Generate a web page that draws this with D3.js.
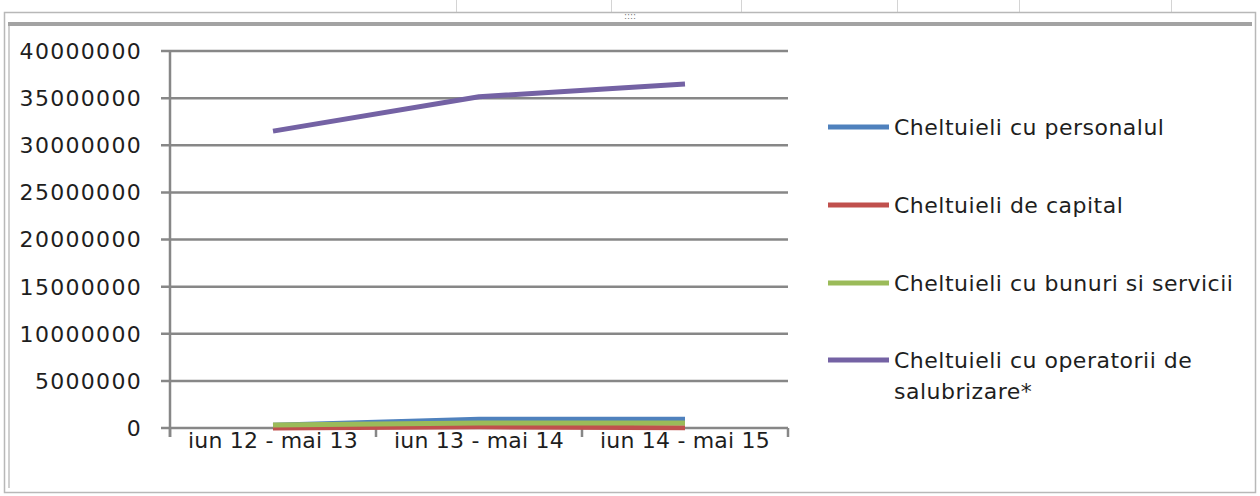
<!DOCTYPE html>
<html>
<head>
<meta charset="utf-8">
<script src="https://cdn.jsdelivr.net/npm/d3@7"></script>
<style>
  html, body { margin: 0; padding: 0; background: #fff; }
  svg { display: block; }
  text { font-family: "DejaVu Sans", sans-serif; fill: #1e1e1e; }
</style>
</head>
<body>
<svg id="chart" width="1260" height="496"></svg>
<script>
// ---- data ----
const categories = ["iun 12 - mai 13", "iun 13 - mai 14", "iun 14 - mai 15"];
const seriesNames = [
  "Cheltuieli cu personalul",
  "Cheltuieli de capital",
  "Cheltuieli cu bunuri si servicii",
  "Cheltuieli cu operatorii de salubrizare*"
];
const personalul = [300000, 920000, 940000];
const capital = [0, 120000, 30000];
const bunuri = [320000, 540000, 520000];
const operatori = [31500000, 35150000, 36500000];
const yTicks = [0, 5000000, 10000000, 15000000, 20000000, 25000000, 30000000, 35000000, 40000000];
const colors = ["#4f81bd", "#c0504d", "#9bbb59", "#7462a4"];
const seriesValues = [personalul, capital, bunuri, operatori];

const svg = d3.select("#chart");

// ---- spreadsheet background & frame ----
const cellLines = [456, 611, 741, 897, 1019, 1171];
svg.selectAll("line.cell").data(cellLines).enter().append("line")
  .attr("x1", d => d + 0.5).attr("x2", d => d + 0.5)
  .attr("y1", 0).attr("y2", 13)
  .attr("stroke", "#d4d4d4").attr("stroke-width", 1);
svg.append("rect")
  .attr("x", 4.5).attr("y", 12.5).attr("width", 1251).attr("height", 480)
  .attr("fill", "#fff").attr("stroke", "#b8b8b8").attr("stroke-width", 1.5);
svg.append("rect")
  .attr("x", 8).attr("y", 22).attr("width", 1244).attr("height", 4)
  .attr("fill", "#a3a3a3");
svg.append("rect")
  .attr("x", 8).attr("y", 26).attr("width", 2).attr("height", 462)
  .attr("fill", "#d0d0d0");
svg.append("text").attr("x", 630).attr("y", 19).attr("text-anchor", "middle")
  .style("font-size", "9px").style("fill", "#777").text("::::");

// ---- scales ----
const plotLeft = 170, plotRight = 788, plotTop = 51, plotBottom = 428;
const x = d3.scaleBand().domain(categories).range([plotLeft, plotRight]).padding(0);
const y = d3.scaleLinear().domain([0, 40000000]).range([plotBottom, plotTop]);
const gridColor = "#878787";

// gridlines
svg.append("g").selectAll("line").data(yTicks).enter().append("line")
  .attr("x1", plotLeft - 9).attr("x2", plotRight)
  .attr("y1", d => y(d)).attr("y2", d => y(d))
  .attr("stroke", gridColor).attr("stroke-width", 2.5);

// y axis line
svg.append("line")
  .attr("x1", plotLeft).attr("x2", plotLeft)
  .attr("y1", plotTop).attr("y2", plotBottom + 9)
  .attr("stroke", gridColor).attr("stroke-width", 2.5);

// x axis ticks
const xTickPos = categories.map(c => x(c)).concat([plotRight]);
svg.append("g").selectAll("line").data(xTickPos).enter().append("line")
  .attr("x1", d => d).attr("x2", d => d)
  .attr("y1", plotBottom).attr("y2", plotBottom + 9)
  .attr("stroke", gridColor).attr("stroke-width", 2.5);

// y labels
svg.append("g").selectAll("text").data(yTicks).enter().append("text")
  .attr("x", 142).attr("y", d => y(d)).attr("dy", "0.36em")
  .attr("text-anchor", "end")
  .style("font-size", "22px").style("letter-spacing", "1.3px")
  .text(d => String(d));

// x labels
svg.append("g").selectAll("text").data(categories).enter().append("text")
  .attr("x", d => x(d) + x.bandwidth() / 2).attr("y", 448)
  .attr("text-anchor", "middle")
  .style("font-size", "22px").style("letter-spacing", "0.2px")
  .text(d => d);

// ---- lines ----
const line = d3.line()
  .x((d, i) => x(categories[i]) + x.bandwidth() / 2)
  .y(d => y(d));
svg.append("g").selectAll("path").data(seriesValues).enter().append("path")
  .attr("d", d => line(d))
  .attr("fill", "none")
  .attr("stroke", (d, i) => colors[i])
  .attr("stroke-width", 5)
  .attr("stroke-linejoin", "round");

// ---- legend ----
const legendY = [127, 205, 283, 360];
const lg = svg.append("g");
seriesNames.forEach((name, i) => {
  lg.append("line")
    .attr("x1", 828).attr("x2", 889)
    .attr("y1", legendY[i]).attr("y2", legendY[i])
    .attr("stroke", colors[i]).attr("stroke-width", 5);
  const t = lg.append("text").attr("x", 894).attr("y", legendY[i]).attr("dy", "0.36em")
    .style("font-size", "22px").style("letter-spacing", "0.5px");
  if (i === 3) {
    t.append("tspan").attr("x", 894).text("Cheltuieli cu operatorii de");
    t.append("tspan").attr("x", 894).attr("dy", 31).text("salubrizare*");
  } else {
    t.text(name);
  }
});
</script>
</body>
</html>
